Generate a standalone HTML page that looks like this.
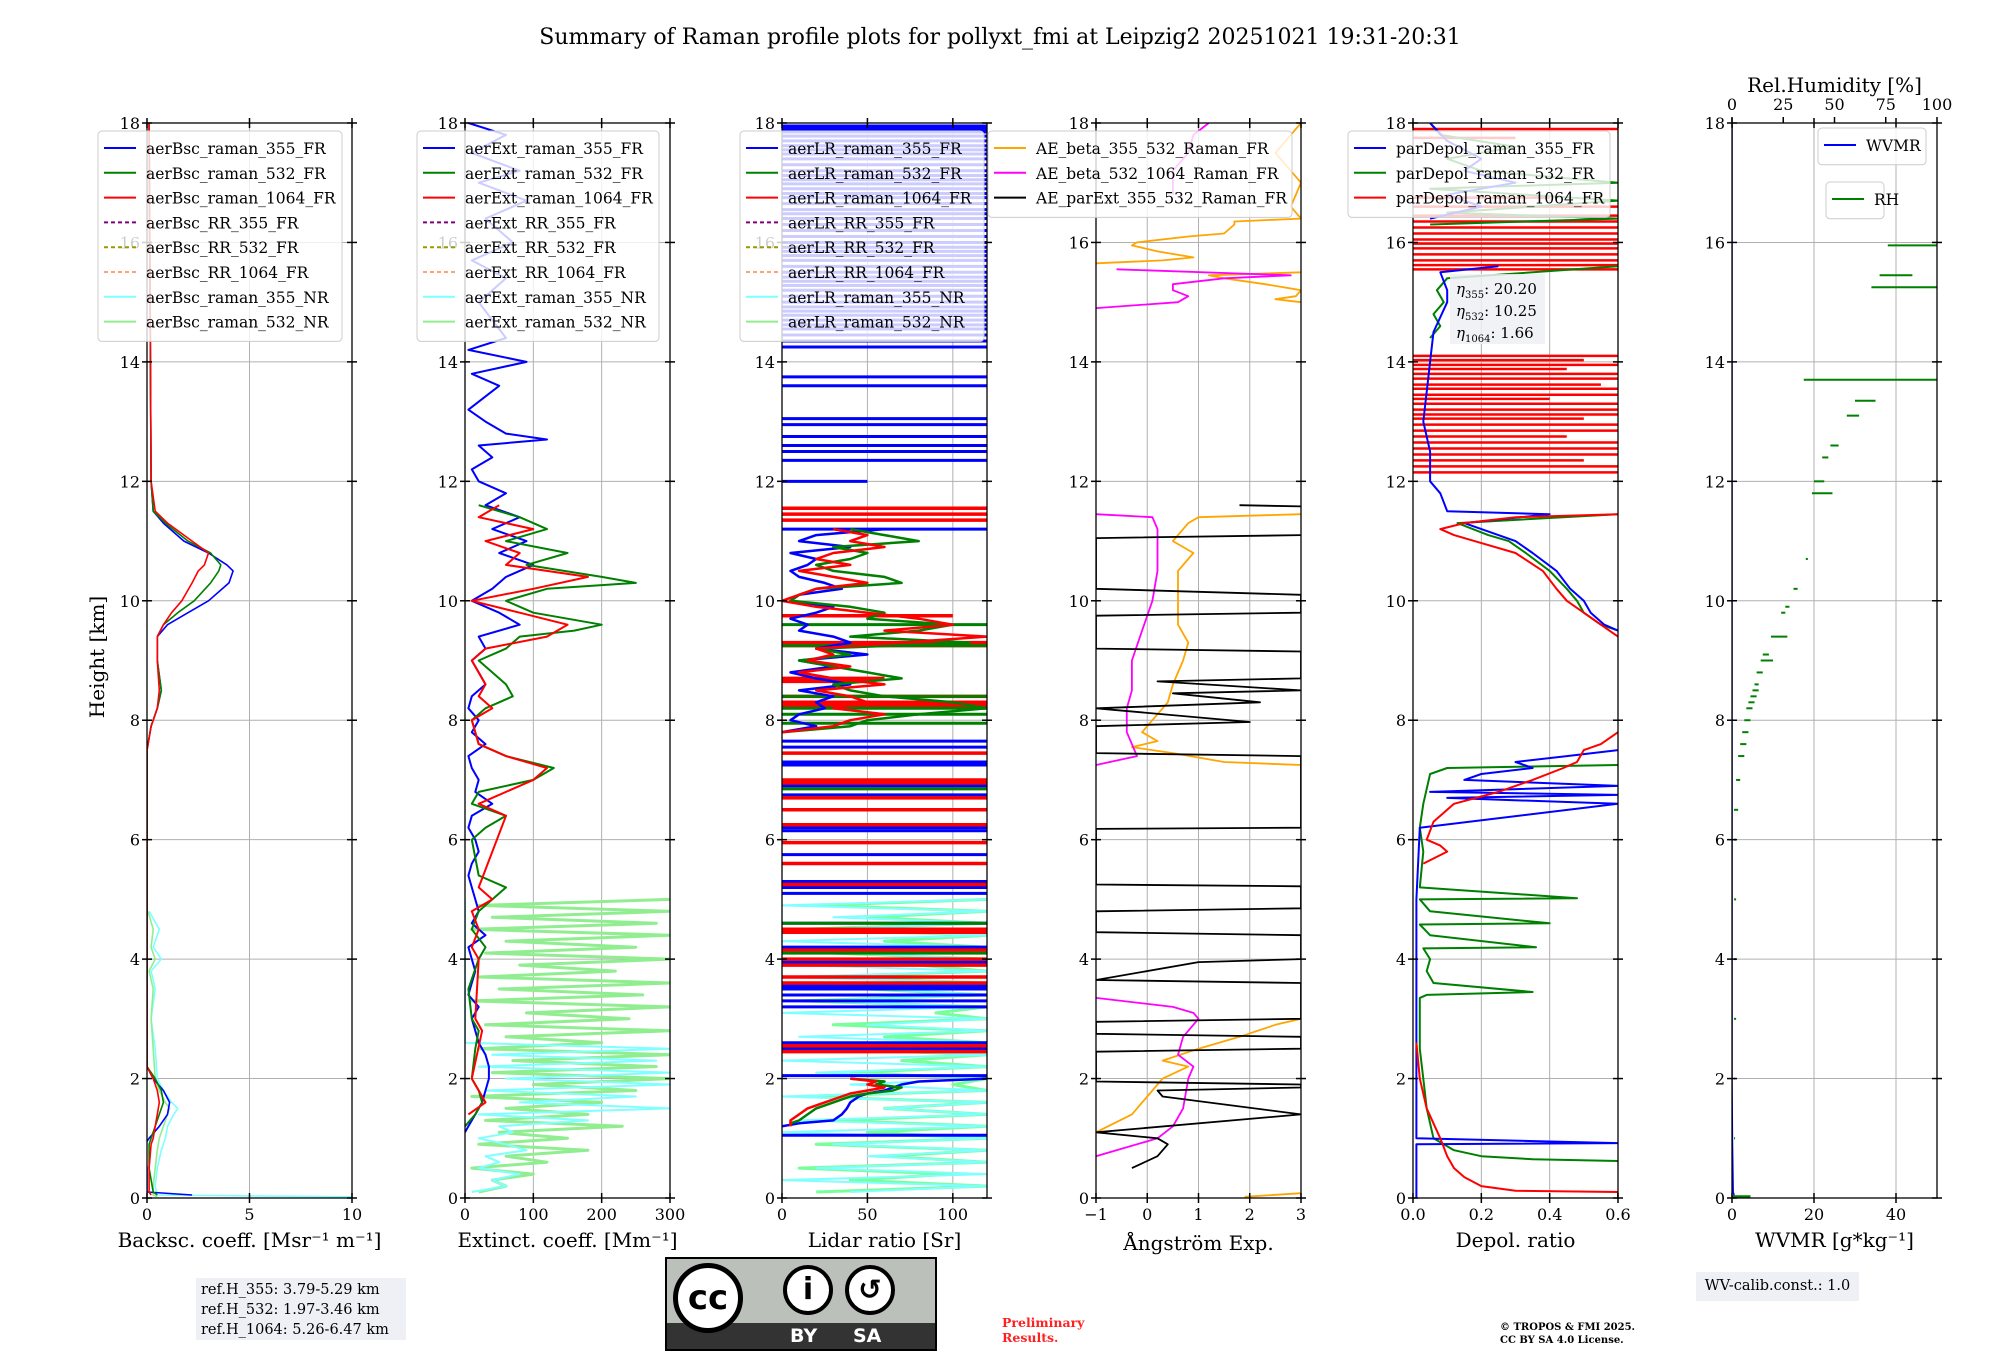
<!DOCTYPE html>
<html><head><meta charset="utf-8"><style>
body{margin:0;background:#fff}
svg{display:block}
text{font-family:"DejaVu Serif","Liberation Serif",serif;fill:#000}
</style></head><body>
<svg id="fig" width="2000" height="1360" viewBox="0 0 2000 1360" xmlns="http://www.w3.org/2000/svg">
<rect width="2000" height="1360" fill="#fff"/>
<text x="1000" y="44" font-size="22" text-anchor="middle">Summary of Raman profile plots for pollyxt_fmi at Leipzig2 20251021 19:31-20:31</text>
<g id="plots"></g>
<g id="overlay"></g>
</svg>
<script>
// ---- data (height km / values) ----
const yTicks=[0,2,4,6,8,10,12,14,16,18];
const xTicks=[[0,5,10],[0,100,200,300],[0,50,100],[-1,0,1,2,3],[0.0,0.2,0.4,0.6],[0,20,40]];
const xTickLabels=[["0","5","10"],["0","100","200","300"],["0","50","100"],["−1","0","1","2","3"],["0.0","0.2","0.4","0.6"],["0","20","40"]];
const xRanges=[[0,10],[0,300],[0,120],[-1,3],[0,0.6],[0,50]];
const xLabels=["Backsc. coeff. [Msr⁻¹ m⁻¹]","Extinct. coeff. [Mm⁻¹]","Lidar ratio [Sr]","Ångström Exp.","Depol. ratio","WVMR [g*kg⁻¹]"];
const rhTicks=[0,25,50,75,100];

// panel 1 backscatter
const bscH=[18,12,11.5,11.3,11,10.8,10.6,10.5,10.3,10.0,9.8,9.6,9.4,9.0,8.5,8.2,7.9,7.5,6,4,2.2,2.0,1.8,1.6,1.4,1.2,1.0,0.9,0.5,0.1,0.05];
const bsc355=[0.1,0.2,0.3,0.8,1.8,3.0,3.9,4.2,4.0,3.0,2.0,1.0,0.5,0.5,0.7,0.5,0.2,0,0,0,0,0.3,0.8,1.1,1.0,0.6,0.1,-0.1,0,0,2.2];
const bsc532=[0.1,0.2,0.3,0.9,2.0,3.1,3.6,3.5,3.1,2.3,1.5,0.8,0.5,0.5,0.7,0.5,0.2,0,0,0,0,0.4,0.7,0.8,0.6,0.4,0.2,0.1,0.1,0.3,0.5];
const bsc1064=[0.1,0.2,0.4,1.0,2.2,3.0,2.8,2.5,2.2,1.7,1.2,0.8,0.5,0.5,0.6,0.5,0.2,0,0,0,0,0.3,0.5,0.6,0.5,0.4,0.3,0.2,0.1,0.1,0.2];
const bscNrH=[4.8,4.5,4.2,4.0,3.8,3.5,3.0,2.5,2.0,1.8,1.6,1.5,1.4,1.2,1.0,0.8,0.5,0.2,0.05,0.02];
const bscNr355=[0.1,0.6,0.3,0.7,0.2,0.4,0.2,0.4,0.5,0.8,1.2,1.5,1.3,1.0,0.9,0.7,0.5,0.4,0.5,10];
const bscNr532=[0.05,0.3,0.2,0.4,0.1,0.3,0.2,0.3,0.4,0.6,0.9,1.1,1.0,0.8,0.6,0.5,0.4,0.3,0.3,0.5];

// panel 2 extinction
const ext355H=[18,17.8,17.5,17.2,17,16.7,16.4,16,15.7,15.4,15,14.7,14.4,14.2,14,13.8,13.6,13.2,13,12.8,12.7,12.6,12.4,12.2,12,11.8,11.6,11.4,11.2,11,10.8,10.6,10.4,10.2,10,9.8,9.6,9.4,9.2,9,8.8,8.6,8.4,8.2,8,7.8,7.6,7.4,7.2,7,6.8,6.6,6.4,6.2,6,5.8,5.6,5.4,5.2,5,4.8,4.6,4.4,4.2,4,3.8,3.6,3.4,3.2,3,2.8,2.6,2.4,2.2,2,1.8,1.6,1.4,1.2,1.1];
const ext355=[5,60,10,80,20,90,30,70,10,60,20,40,60,5,90,10,50,5,30,60,120,20,40,10,20,60,30,80,40,90,50,100,60,40,10,50,80,20,30,10,20,30,10,5,20,10,30,5,10,20,15,40,10,5,15,20,10,5,10,15,20,10,30,5,10,15,10,5,20,10,15,20,30,35,35,30,25,15,5,0];
const ext532H=[11.6,11.4,11.2,11,10.8,10.6,10.4,10.3,10.2,10,9.8,9.6,9.5,9.4,9.2,9,8.8,8.6,8.4,8.2,8,7.6,7.4,7.2,7.0,6.8,6.6,6.4,6.2,6,5.4,5.2,5,4.8,4.5,4.2,4,3.5,3,2.8,2.5,2,1.8,1.6,1.4,1.2];
const ext532=[20,80,120,60,150,90,200,250,120,60,100,200,160,80,60,20,40,60,70,30,10,20,60,130,100,20,10,60,30,10,20,60,40,20,10,30,20,5,10,20,15,10,20,25,15,0];
const ext1064H=[11.6,11.4,11.2,11,10.8,10.6,10.4,10.2,10,9.8,9.6,9.4,9.2,9,8.6,8.4,8.2,8,7.6,7.4,7.2,7,6.6,6.4,5.2,5,4.8,4.5,4.2,4,3,2.8,2,1.8,1.6,1.4];
const ext1064=[50,20,100,30,80,60,180,100,10,80,150,120,30,10,30,20,40,10,20,60,120,100,20,60,20,40,10,20,10,20,15,25,10,20,30,5];
const nrH=[5.0,4.9,4.8,4.7,4.6,4.5,4.4,4.3,4.2,4.1,4.0,3.9,3.8,3.7,3.6,3.5,3.4,3.3,3.2,3.1,3.0,2.9,2.8,2.7,2.6,2.5,2.4,2.3,2.2,2.1,2.0,1.9,1.8,1.7,1.6,1.5,1.4,1.3,1.2,1.1,1.0,0.9,0.8,0.7,0.6,0.5,0.4,0.3,0.2,0.1];
const ext532NR=[300,20,300,40,280,10,300,60,250,30,300,80,220,20,300,50,260,10,300,90,240,30,300,60,200,20,300,70,280,40,300,100,250,10,200,60,180,30,230,50,150,20,180,60,120,10,100,40,60,20];
const ext355NR=[0,0,0,0,0,0,0,0,0,0,0,0,0,0,0,0,0,0,0,0,0,0,0,0,0,300,40,280,20,300,60,300,30,250,80,300,20,180,50,70,20,60,90,30,50,20,80,40,60,10];

// panel 3 lidar ratio (spikes: horizontal lines to value)
const lrBlueSpikeH=[17.95,17.9,17.85,17.78,17.7,17.62,17.55,17.48,17.4,17.3,17.2,17.12,17.05,16.98,16.9,16.82,16.75,16.65,16.55,16.48,16.4,16.3,16.2,16.1,16.0,15.92,15.85,15.78,15.7,15.6,15.5,15.42,15.35,15.28,15.2,15.1,15.0,14.92,14.85,14.78,14.7,14.62,14.55,14.45,14.35,14.25,13.75,13.6,13.05,12.95,12.75,12.6,12.5,12.35,12.0,11.2,7.65,7.55,7.3,7.25,6.9,6.75,6.2,6.15,5.75,5.3,5.2,5.1,4.6,4.5,4.2,3.95,3.55,3.5,3.4,3.3,3.2,2.6,2.5,2.05,1.05];
const lrBlueSpikeV=[300,300,300,300,300,300,300,300,120,300,300,300,300,300,300,300,120,300,300,300,300,300,300,300,300,300,300,300,120,300,300,300,300,300,300,300,300,300,300,300,300,300,300,300,300,300,300,300,300,300,300,300,300,300,50,300,300,300,300,300,300,300,300,120,300,300,300,300,300,300,300,300,300,300,300,300,300,300,300,300,300];
const lrRedSpikeH=[11.55,11.45,11.35,9.75,9.3,9.25,8.7,8.65,8.4,8.3,8.25,7.45,7.0,6.95,6.7,6.5,6.25,5.95,5.6,5.25,4.5,4.45,4.15,4.0,3.9,3.7,3.6,2.55,2.45];
const lrRedSpikeV=[300,300,300,100,300,300,60,50,300,300,300,300,300,300,300,300,300,300,300,300,300,300,300,300,300,300,300,300,300];
const lrGreenSpikeH=[9.6,9.25,8.4,8.2,8.1,7.95,6.85,4.6,4.1];
const lrGreenSpikeV=[300,300,300,300,300,300,300,300,300];
const lrMidH=[11.2,11.1,11.0,10.9,10.8,10.7,10.6,10.5,10.4,10.3,10.2,10.1,10.0,9.9,9.8,9.7,9.6,9.5,9.4,9.3,9.2,9.1,9.0,8.9,8.8,8.7,8.6,8.5,8.4,8.3,8.2,8.1,8.0,7.9,7.8];
const lrMid355=[60,20,10,40,5,20,15,5,10,25,35,10,5,30,20,5,15,10,30,40,20,50,10,30,5,20,40,10,30,20,25,10,5,20,0];
const lrMid532=[40,60,80,30,50,40,20,30,60,70,20,10,5,40,60,50,100,80,40,110,20,40,10,30,50,70,30,40,60,100,120,80,50,40,0];
const lrMid1064=[30,50,40,60,30,20,40,10,30,50,20,10,0,20,50,80,100,60,120,70,20,30,15,40,10,30,60,20,40,50,30,60,40,30,0];
const lrLowH=[2.0,1.95,1.9,1.85,1.8,1.75,1.7,1.6,1.5,1.4,1.3,1.25,1.2];
const lrLow355=[120,80,70,65,60,50,45,40,38,35,30,10,0];
const lrLow532=[40,60,55,70,65,50,40,30,20,15,10,5,5];
const lrLow1064=[40,55,50,60,50,40,35,25,15,10,5,5,5];
const lr532NR=[120,20,120,50,120,10,120,60,120,30,120,80,120,20,120,50,120,10,120,90,120,30,120,60,120,20,120,70,120,40,120,100,120,10,120,60,120,30,120,50,120,20,120,60,120,10,100,40,120,20];
const lr355NR=[120,0,120,30,120,20,120,0,120,40,120,10,120,0,120,60,120,20,120,0,120,50,120,10,120,30,120,0,120,20,120,40,120,0,120,60,120,10,120,0,120,30,120,50,120,20,120,0,120,40];

// panel 4 Angstrom
const aeOrH=[18,17.5,17,16.6,16.4,16.35,16.3,16.15,16.1,16.0,15.95,15.85,15.75,15.7,15.65,NaN,15.5,15.45,15.4,15.3,15.2,15.1,15.05,15.0,NaN,11.45,11.4,11.3,11.0,10.8,10.5,10.0,9.6,9.3,9.0,8.6,8.3,8.0,7.8,7.65,7.55,7.45,7.3,7.25,NaN,3.0,2.9,2.7,2.5,2.3,2.2,2.0,1.8,1.4,1.1,NaN,0.02,0.08];
const aeOr=[3,2.5,3,2.8,3,1.7,1.7,1.5,0.8,-0.2,-0.3,0.2,0.9,0.3,-1,NaN,3,1.2,1.5,2.3,3,2.9,2.5,3,NaN,3,1.0,0.8,0.5,0.9,0.6,0.6,0.6,0.8,0.7,0.5,0.4,0.1,-0.1,0.2,-0.3,0.5,1.5,3,NaN,3,2.5,1.8,1.0,0.3,0.8,0.3,0.1,-0.3,-1,NaN,1.9,3];
const aeMgH=[18,17.8,17.5,17.2,16.8,NaN,15.55,15.45,15.4,15.3,15.2,15.1,15.0,14.9,NaN,11.45,11.4,11.2,10.5,10.0,9.5,9.0,8.5,8.2,7.8,7.6,7.4,7.25,NaN,3.35,3.2,3.1,3.0,2.7,2.4,2.2,2.0,1.5,1.2,1.0,0.7];
const aeMg=[1.2,0.9,0.8,0.5,0.5,NaN,-0.6,2.8,1.5,0.5,0.5,0.8,0.6,-1,NaN,-1,0.1,0.2,0.2,0.1,-0.1,-0.3,-0.3,-0.4,-0.4,-0.3,-0.2,-1,NaN,-1,0.5,0.9,1.0,0.7,0.6,0.9,0.8,0.7,0.5,0.2,-1];
const aeBkH=[11.6,11.58,NaN,11.1,11.05,10.2,10.1,9.8,9.75,9.2,9.15,8.7,8.65,8.5,8.45,8.3,8.2,7.97,7.9,7.45,7.4,6.2,6.18,5.25,5.22,4.85,4.8,4.45,4.4,4.0,3.95,3.65,3.6,3.0,2.95,2.75,2.7,2.5,2.45,1.95,1.9,1.85,1.8,1.7,1.4,1.1,1.0,0.9,0.7,0.5];
const aeBk=[1.8,3,NaN,3,-1,-1,3,3,-1,-1,3,3,0.2,3,0.5,2.2,-1,2.0,-1,-1,3,3,-1,-1,3,3,-1,-1,3,3,1.0,-1,3,3,-1,-1,3,3,-1,-1,3,3,0.2,0.3,3,-1,0.2,0.4,0.2,-0.3];

// panel 5 depol
const dpBlueH=[18,17.7,17.4,17.2,17.0,16.8,16.6,16.4,NaN,15.6,15.5,15.2,15.0,14.5,14.0,13.5,13.0,12.5,12.0,11.8,11.5,11.45,11.3,11.1,11.0,10.8,10.5,10.2,10.0,9.8,9.6,9.5,NaN,7.5,7.4,7.3,7.2,7.1,7.0,6.9,6.8,6.75,6.7,6.6,6.2,5.0,3.0,1.0,0.92,0.9,0.0];
const dpBlue=[0.05,0.1,0.2,0.15,0.3,0.1,0.2,0.05,NaN,0.25,0.08,0.1,0.1,0.06,0.05,0.04,0.03,0.05,0.05,0.08,0.1,0.4,0.15,0.25,0.3,0.35,0.42,0.46,0.5,0.52,0.56,0.6,NaN,0.6,0.45,0.3,0.35,0.2,0.15,0.6,0.05,0.6,0.1,0.6,0.02,0.01,0.01,0.01,0.6,0.01,0.01];
const dpGreenH=[18,17.8,17.6,17.4,17.2,17.0,16.9,16.7,16.5,16.4,16.3,NaN,15.6,15.4,15.2,15.0,14.8,14.6,14.4,NaN,11.45,11.3,11.1,11.0,10.8,10.5,10.2,10.0,9.8,9.6,9.5,NaN,7.25,7.2,7.1,6.6,6.2,5.8,5.2,5.02,5.0,4.8,4.6,4.58,4.4,4.2,4.18,4.0,3.8,3.6,3.45,3.4,3.35,3.2,2.5,2.0,1.5,1.0,0.8,0.7,0.65,0.62,0.6];
const dpGreen=[0.05,0.08,0.3,0.1,0.2,0.6,0.05,0.6,0.1,0.6,0.05,NaN,0.6,0.1,0.07,0.09,0.06,0.08,0.05,NaN,0.6,0.13,0.22,0.28,0.33,0.4,0.45,0.48,0.5,0.55,0.6,NaN,0.6,0.1,0.05,0.03,0.02,0.03,0.02,0.48,0.02,0.05,0.4,0.02,0.05,0.36,0.03,0.05,0.04,0.06,0.35,0.04,0.02,0.02,0.02,0.03,0.04,0.06,0.12,0.2,0.35,0.6,0.6];
const dpRedH=[11.45,11.4,11.3,11.2,11.1,11.0,10.8,10.5,10.2,10.0,9.8,9.6,9.4,NaN,7.8,7.6,7.5,7.3,7.2,7.0,6.8,6.6,6.3,6.0,5.9,5.8,5.6,NaN,2.6,2.0,1.5,1.0,0.7,0.5,0.35,0.2,0.12,0.1,0.05,0.0];
const dpRed=[0.6,0.3,0.15,0.08,0.12,0.18,0.3,0.38,0.42,0.45,0.5,0.55,0.6,NaN,0.6,0.55,0.5,0.48,0.44,0.35,0.25,0.12,0.06,0.04,0.08,0.1,0.03,NaN,0.01,0.02,0.04,0.08,0.1,0.12,0.15,0.2,0.3,0.6,0.6,0.6];
const dpRedSpikeH=[17.9,17.75,16.75,16.6,16.45,16.35,16.25,16.15,16.05,15.98,15.9,15.8,15.7,15.62,15.55,14.1,14.03,13.95,13.88,13.8,13.72,13.62,13.55,13.45,13.38,13.3,13.2,13.12,13.05,12.95,12.85,12.75,12.65,12.55,12.45,12.35,12.25,12.15];
const dpRedSpikeV=[0.6,0.3,0.4,0.6,0.6,0.6,0.6,0.6,0.6,0.6,0.6,0.6,0.6,0.6,0.6,0.6,0.5,0.6,0.45,0.6,0.6,0.55,0.6,0.6,0.4,0.6,0.6,0.6,0.5,0.6,0.6,0.45,0.6,0.6,0.6,0.5,0.6,0.6];

// panel 6 RH segments (in RH %) and WVMR
const rhH=[15.95,15.45,15.25,13.7,13.35,13.1,12.6,12.4,12.0,11.8,10.7,10.2,9.9,9.8,9.4,9.1,9.0,8.8,8.6,8.5,8.4,8.3,8.2,8.0,7.8,7.6,7.4,7.0,6.5,6.0,5.0,4.0,3.0,2.0,1.0];
const rhFrom=[76,72,68,35,60,56,48,44,40,39,36,30,26,24,19,15,14,12,11,10,9,8,7,6,5,4,3,2,1,1,1,1,1,1,1];
const rhTo=[100,88,100,100,70,62,52,47,45,49,37,32,28,26,27,18,20,15,13,13,12,11,10,9,8,7,6,4,3,2,2,2,2,1.5,1.5];
const wvH=[18,10,5,2,1,0.1,0.05,0.02];
const wvV=[0,0,0,0,0.1,0.3,0.5,0.5];

// ---- layout ----
const PX=[147,465,782,1096,1413,1732], PW=205, YT=123, YB=1198;
const NS="http://www.w3.org/2000/svg";
const root=document.getElementById('plots');
const ov=document.getElementById('overlay');
function mk(tag,attrs,parent){const e=document.createElementNS(NS,tag);for(const k in attrs)e.setAttribute(k,attrs[k]);(parent||root).appendChild(e);return e;}
const sy=h=>YB-(h/18)*(YB-YT);
function sx(p,v){const r=xRanges[p];return PX[p]+(v-r[0])/(r[1]-r[0])*PW;}
const panels=[];
for(let p=0;p<6;p++){
  const g=mk('g',{});
  
  
  const cp=mk('clipPath',{id:'c'+p},g);
  mk('rect',{x:PX[p],y:YT,width:PW,height:YB-YT},cp);
  yTicks.forEach(t=>{mk('line',{x1:PX[p],x2:PX[p]+PW,y1:sy(t),y2:sy(t),stroke:'#b0b0b0','stroke-width':1},g);});
  xTicks[p].forEach(t=>{mk('line',{x1:sx(p,t),x2:sx(p,t),y1:YT,y2:YB,stroke:'#b0b0b0','stroke-width':1},g);});
  const d=mk('g',{'clip-path':'url(#c'+p+')'},g);
  panels.push(d);
  const fr=mk('rect',{x:PX[p],y:YT,width:PW,height:YB-YT,fill:'none',stroke:'#000','stroke-width':1.3},g);
  
  
  yTicks.forEach(t=>{
    mk('line',{x1:PX[p]-5,x2:PX[p]+5,y1:sy(t),y2:sy(t),stroke:'#000','stroke-width':1.5},g);
    mk('line',{x1:PX[p]+PW-5,x2:PX[p]+PW+5,y1:sy(t),y2:sy(t),stroke:'#000','stroke-width':1.5},g);
    const tx=mk('text',{x:PX[p]-7,y:sy(t)+6,'font-size':16,'text-anchor':'end'},g);
    tx.textContent=String(t);
    
    
  });
  xTicks[p].forEach((t,i)=>{
    mk('line',{x1:sx(p,t),x2:sx(p,t),y1:YB-5,y2:YB+5,stroke:'#000','stroke-width':1.5},g);
    mk('line',{x1:sx(p,t),x2:sx(p,t),y1:YT-5,y2:YT+5,stroke:'#000','stroke-width':1.5},g);
    const tx=mk('text',{x:sx(p,t),y:1220,'font-size':16,'text-anchor':'middle'},g);
    tx.textContent=xTickLabels[p][i];
    
    
  });
  const xl=mk('text',{x:PX[p]+PW/2,y:p==3?1250:1247,'font-size':20,'text-anchor':'middle'},g);
  xl.textContent=xLabels[p];
  
  
}
function line(p,H,V,color,w,op){
  let d='',pen=false;
  for(let i=0;i<H.length;i++){
    if(isNaN(H[i])||isNaN(V[i])){pen=false;continue;}
    d+=(pen?'L':'M')+sx(p,V[i]).toFixed(1)+' '+sy(H[i]).toFixed(1);pen=true;
  }
  const e=mk('path',{d:d,fill:'none',stroke:color,'stroke-width':w||1.6,opacity:op||1,'stroke-linejoin':'round'},panels[p]);
  
  
  return e;
}
function spikes(p,H,V,color,w,from){
  H.forEach((h,i)=>{
    const e=mk('line',{x1:sx(p,from),x2:sx(p,V[i]),y1:sy(h),y2:sy(h),stroke:color,'stroke-width':w||2.5},panels[p]);
    
    
  });
}
line(0,bscNrH,bscNr355,'#7fffff',1.6);
line(0,bscNrH,bscNr532,'#90ee90',1.6);
line(0,bscH,bsc355,'#0000ff',1.6);
line(0,bscH,bsc532,'#008000',1.6);
line(0,bscH,bsc1064,'#ff0000',1.6);
line(1,nrH,ext532NR,'#90ee90',3);
line(1,nrH,ext355NR,'#7fffff',2);
line(1,ext355H,ext355,'#0000ff',2);
line(1,ext532H,ext532,'#008000',2);
line(1,ext1064H,ext1064,'#ff0000',2);
line(2,nrH,lr532NR,'#77ff99',3);
line(2,nrH,lr355NR,'#7fffff',2);
spikes(2,lrBlueSpikeH,lrBlueSpikeV,'#0000ff',3,0);
spikes(2,lrRedSpikeH,lrRedSpikeV,'#ff0000',3.5,0);
spikes(2,lrGreenSpikeH,lrGreenSpikeV,'#008000',3,0);
line(2,lrMidH,lrMid355,'#0000ff',2.5);
line(2,lrMidH,lrMid532,'#008000',2.5);
line(2,lrMidH,lrMid1064,'#ff0000',2.5);
line(2,lrLowH,lrLow355,'#0000ff',2.5);
line(2,lrLowH,lrLow532,'#008000',2.5);
line(2,lrLowH,lrLow1064,'#ff0000',2.5);
line(3,aeOrH,aeOr,'#ffa500',1.8);
line(3,aeMgH,aeMg,'#ff00ff',1.8);
line(3,aeBkH,aeBk,'#000000',1.8);
spikes(4,dpRedSpikeH,dpRedSpikeV,'#ff0000',2.5,0);
line(4,dpGreenH,dpGreen,'#008000',2);
line(4,dpBlueH,dpBlue,'#0000ff',2);
line(4,dpRedH,dpRed,'#ff0000',2);
rhH.forEach((h,i)=>{
  const e=mk('line',{x1:PX[5]+rhFrom[i]/100*PW,x2:PX[5]+rhTo[i]/100*PW,y1:sy(h),y2:sy(h),stroke:'#008000','stroke-width':2},panels[5]);
  
  
});
line(5,wvH,wvV,'#0000ff',1.5);
mk('line',{x1:sx(5,0),x2:sx(5,4.5),y1:sy(0.02),y2:sy(0.02),stroke:'#008000','stroke-width':3},panels[5]);
rhTicks.forEach(t=>{
  const x=PX[5]+t/100*PW;
  const tx=mk('text',{x:x,y:110,'font-size':16,'text-anchor':'middle'});
  tx.textContent=String(t);
  
  
  mk('line',{x1:x,x2:x,y1:YT-6,y2:YT,stroke:'#000','stroke-width':1.5});
});
const rt=mk('text',{x:PX[5]+PW/2,y:92,'font-size':20,'text-anchor':'middle'});
rt.textContent='Rel.Humidity [%]';


const yl=mk('text',{x:0,y:0,'font-size':20,'text-anchor':'middle',transform:'translate(104,657) rotate(-90)'});
yl.textContent='Height [km]';



function legend(x,y,w,entries,name,spacing){
  const g=mk('g',{},ov);
  
  
  const sp=spacing||24.8;
  mk('rect',{x:x,y:y,width:w,height:entries.length*sp+12,rx:4,fill:'#fff','fill-opacity':0.8,stroke:'#ccc'},g);
  entries.forEach((en,i)=>{
    const yy=y+17+i*sp;
    mk('line',{x1:x+6,x2:x+38,y1:yy,y2:yy,stroke:en[1],'stroke-width':2,'stroke-dasharray':en[2]?'4,3':'none'},g);
    const t=mk('text',{x:x+48,y:yy+6,'font-size':15.5},g);
    t.textContent=en[0];
    
    
  });
}
const std=p=>[[p+'raman_355_FR','#0000ff'],[p+'raman_532_FR','#008000'],[p+'raman_1064_FR','#ff0000'],[p+'RR_355_FR','#800080',1],[p+'RR_532_FR','#999900',1],[p+'RR_1064_FR','#ffa07a',1],[p+'raman_355_NR','#7fffff'],[p+'raman_532_NR','#90ee90']];
legend(98,131,244,std('aerBsc_'),'legend-backscatter');
legend(417,131,242,std('aerExt_'),'legend-extinction');
legend(740,131,244,std('aerLR_'),'legend-lidar-ratio');
legend(988,131,304,[['AE_beta_355_532_Raman_FR','#ffa500'],['AE_beta_532_1064_Raman_FR','#ff00ff'],['AE_parExt_355_532_Raman_FR','#000000']],'legend-angstrom');
legend(1348,131,262,[['parDepol_raman_355_FR','#0000ff'],['parDepol_raman_532_FR','#008000'],['parDepol_raman_1064_FR','#ff0000']],'legend-depol');
legend(1818,128,108,[['WVMR','#0000ff']],'legend-wvmr');
legend(1826,182,58,[['RH','#008000']],'legend-rh');
const eg=mk('g',{},ov);


mk('rect',{x:1450,y:274,width:95,height:70,fill:'#eef0f5','fill-opacity':0.85},eg);
[['355','20.20'],['532','10.25'],['1064','1.66']].forEach((e,i)=>{
  const t=mk('text',{x:1456,y:294+i*22,'font-size':15},eg);
  t.innerHTML='<tspan font-style="italic">η</tspan><tspan font-size="10" dy="4">'+e[0]+'</tspan><tspan dy="-4">: '+e[1]+'</tspan>';
});
</script>
<div style="position:absolute;left:196px;top:1278px;width:210px;height:62px;background:#eef0f5;font:14.5px 'DejaVu Serif','Liberation Serif',serif;line-height:20px;padding:2px 5px;box-sizing:border-box">ref.H_355: 3.79-5.29 km<br>ref.H_532: 1.97-3.46 km<br>ref.H_1064: 5.26-6.47 km</div>
<div style="position:absolute;left:665px;top:1257px;width:272px;height:94px;background:#000;">
 <div style="position:absolute;left:2px;top:2px;width:268px;height:64px;background:#bcc0bb"></div>
 <div style="position:absolute;left:2px;top:66px;width:268px;height:26px;background:#333"></div>
 <div style="position:absolute;left:8px;top:6px;width:70px;height:70px;border-radius:50%;background:#fff;border:5px solid #000;box-sizing:border-box;font:bold 34px 'DejaVu Sans',sans-serif;color:#000;text-align:center;line-height:60px">cc</div>
 <div style="position:absolute;left:118px;top:8px;width:50px;height:50px;border-radius:50%;background:#fff;border:4px solid #000;box-sizing:border-box;font:bold 30px 'DejaVu Sans';text-align:center;line-height:42px">i</div>
 <div style="position:absolute;left:180px;top:8px;width:50px;height:50px;border-radius:50%;background:#fff;border:4px solid #000;box-sizing:border-box;font:bold 28px 'DejaVu Sans';text-align:center;line-height:42px">↺</div>
 <div style="position:absolute;left:125px;top:68px;color:#fff;font:bold 19px 'DejaVu Sans',sans-serif">BY</div>
 <div style="position:absolute;left:188px;top:68px;color:#fff;font:bold 19px 'DejaVu Sans',sans-serif">SA</div>
</div>
<div style="position:absolute;left:1002px;top:1315px;color:#ff2020;font:bold 12.5px 'DejaVu Serif',serif;line-height:15px">Preliminary<br>Results.</div>
<div style="position:absolute;left:1500px;top:1321px;font:bold 10px 'DejaVu Serif',serif;line-height:13px">© TROPOS &amp; FMI 2025.<br>CC BY SA 4.0 License.</div>
<div style="position:absolute;left:1696px;top:1272px;width:163px;height:29px;background:#eef0f5;font:14.5px 'DejaVu Serif',serif;line-height:29px;text-align:center">WV-calib.const.: 1.0</div>
</body></html>
